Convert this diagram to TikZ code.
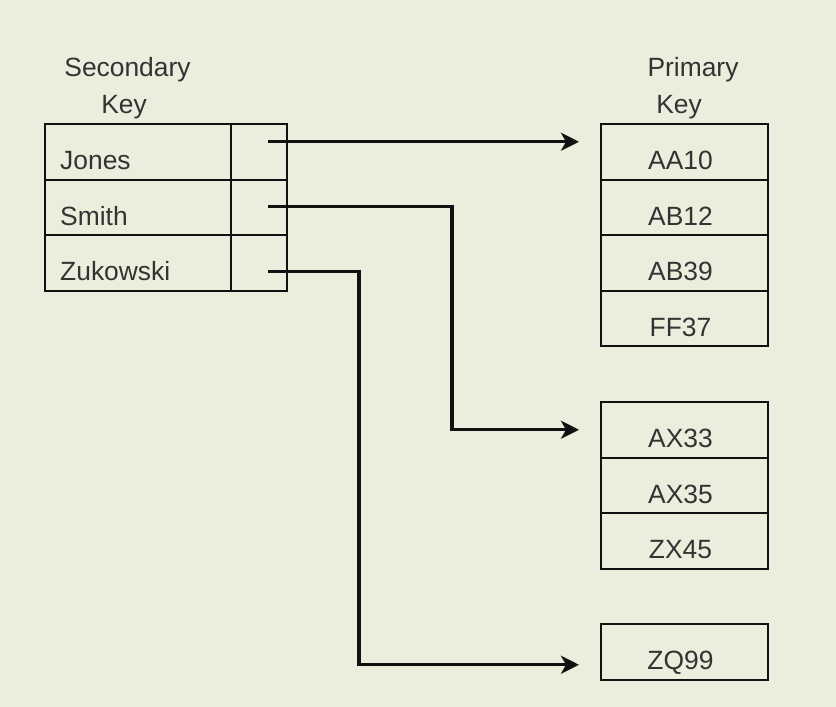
\documentclass[tikz,border=0pt]{standalone}
\usepackage{fontspec}
\setmainfont{Liberation Sans}
\usetikzlibrary{arrows.meta,calc}
\definecolor{bg}{RGB}{237,237,222}
\definecolor{txt}{RGB}{51,51,51}
\definecolor{ln}{RGB}{17,17,17}
\begin{document}
\begin{tikzpicture}[x=1pt,y=-1pt,
  cell/.style={draw=ln, line width=2pt, minimum height=55.5pt, inner sep=0pt, anchor=north west},
  lbl/.style={text=txt, inner sep=0pt, font=\fontsize{26.4}{31.7}\selectfont},
  conn/.style={draw=ln, line width=3.2pt, -{Stealth[length=18pt,width=18pt,inset=5pt]}}]
\fill[bg] (0,0) rectangle (836,707);
\useasboundingbox (0,0) rectangle (836,707);
% headers
\node[lbl, anchor=base] (sh1) at (127.5,76) {Secondary};
\node[lbl, anchor=base] (sh2) at (124,113) {Key};
\node[lbl, anchor=base] (ph1) at (693,76) {Primary};
\node[lbl, anchor=base] (ph2) at (679,113) {Key};
% secondary table
\foreach \n [count=\i] in {Jones,Smith,Zukowski} {
  \node[cell, minimum width=186pt] (k\i) at (44,{123+(\i-1)*55.5}) {};
  \node[cell, minimum width=56pt] (p\i) at (230,{123+(\i-1)*55.5}) {};
  \node[lbl, anchor=base west] (kt\i) at ($(k\i.south west)+(16,-11)$) {\n};
}
% primary table 1
\foreach \n [count=\i] in {AA10,AB12,AB39,FF37} {
  \node[cell, minimum width=167pt] (a\i) at (600,{123+(\i-1)*55.5}) {};
  \node[lbl, anchor=base] (at\i) at ($(a\i.south)+(-4,-11)$) {\n};
}
% primary table 2
\foreach \n [count=\i] in {AX33,AX35,ZX45} {
  \node[cell, minimum width=167pt] (b\i) at (600,{401+(\i-1)*55.5}) {};
  \node[lbl, anchor=base] (bt\i) at ($(b\i.south)+(-4,-11)$) {\n};
}
% primary table 3
\node[cell, minimum width=167pt] (c1) at (600,623) {};
\node[lbl, anchor=base] (ct1) at ($(c1.south)+(-4,-11)$) {ZQ99};
% connector points
\coordinate (s1) at ($(p1.center)+(9,-10)$);
\coordinate (s2) at ($(p2.center)+(9,-1)$);
\coordinate (s3) at ($(p3.center)+(9,9)$);
\coordinate (t1) at ($(a1.west)+(-21,-10)$);
\coordinate (t2) at ($(b1.west)+(-21,0)$);
\coordinate (t3) at ($(c1.west)+(-21,13)$);
\coordinate (m2) at (452,300);
\coordinate (m3) at (359,450);
\draw[conn] (s1) -- (t1);
\draw[conn] (s2) -| (m2) |- (t2);
\draw[conn] (s3) -| (m3) |- (t3);
\end{tikzpicture}
\end{document}
